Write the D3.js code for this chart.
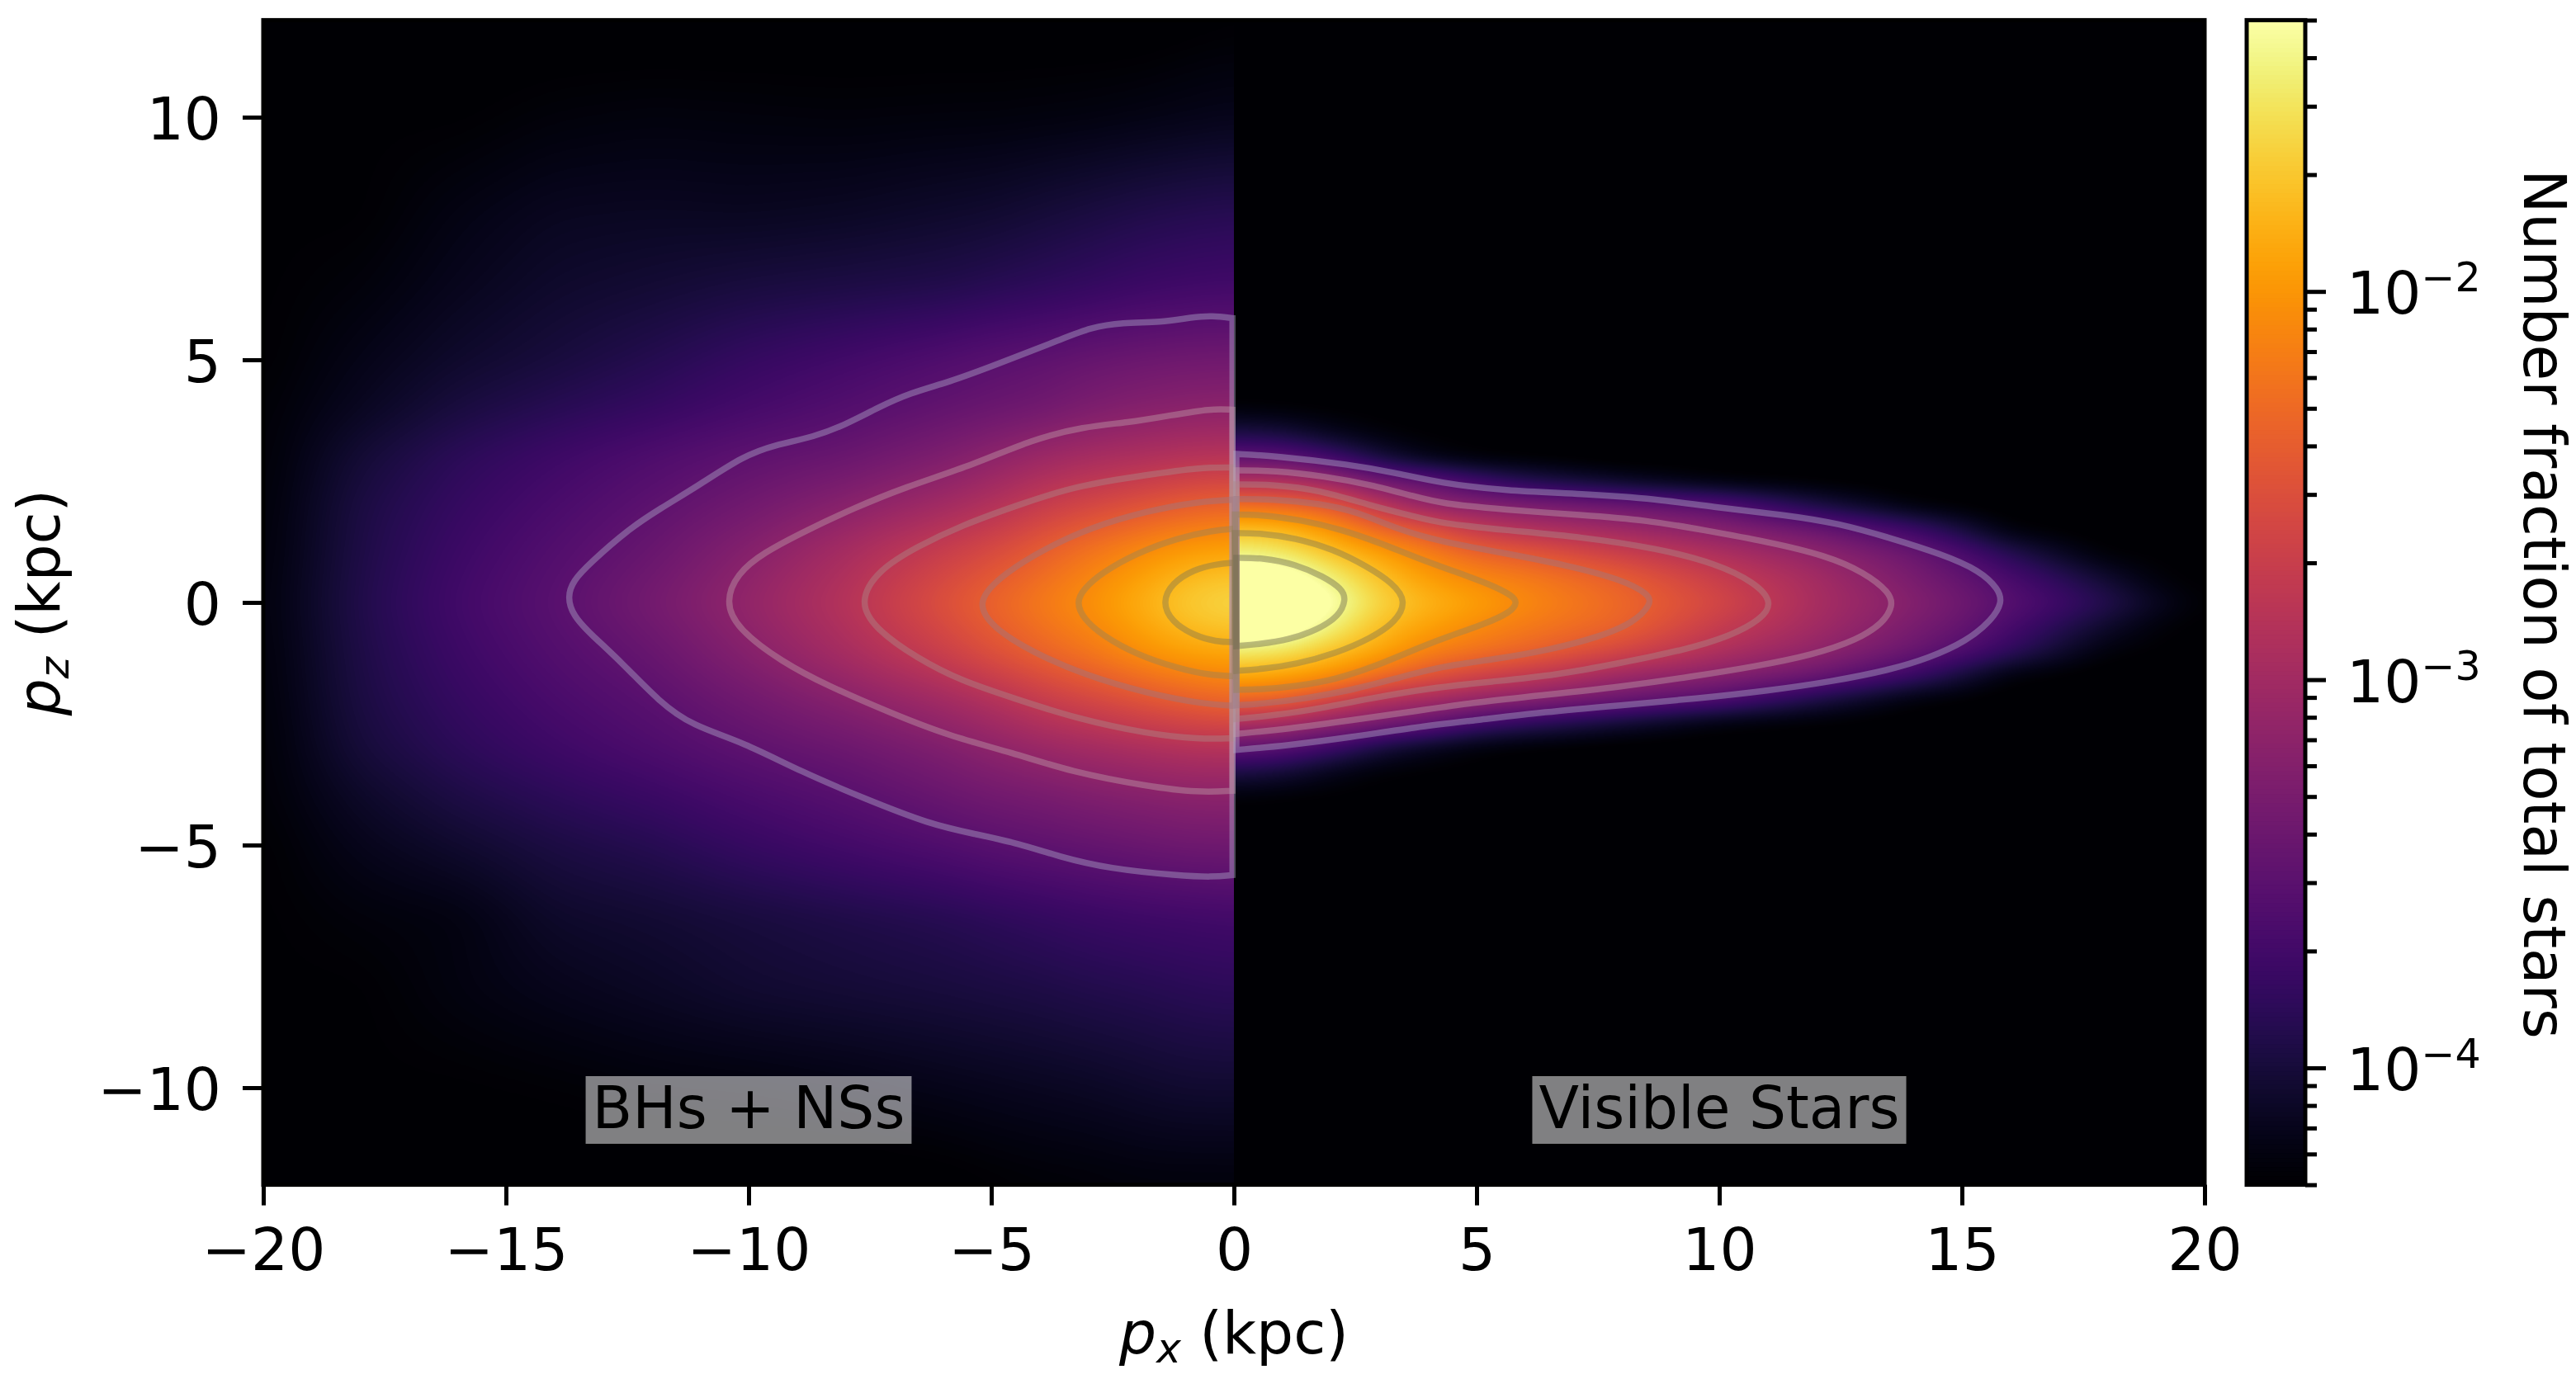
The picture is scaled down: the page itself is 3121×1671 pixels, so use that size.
<!DOCTYPE html>
<html>
<head>
<meta charset="utf-8">
<script src="https://cdn.jsdelivr.net/npm/d3@7"></script>
<style>
    html, body { margin: 0; padding: 0; background: white; }
    svg { display: block; }
    text { font-family: "DejaVu Sans"; fill: black; }
</style>
</head>
<body>
<div id="chart"></div>
<script>
// log10 of number fraction, BHs + NSs half
const leftCols = [-20, -18, -16, -14, -12, -10, -8, -6, -5, -4, -3, -2, -1, 0];
const leftRows = [12, 10, 8, 6.5, 5, 4, 3, 2, 1, 0, -1, -2, -3, -4, -5, -6.5, -8, -10, -12];
const leftLog = [
    [-4.35, -4.35, -4.35, -4.35, -4.35, -4.35, -4.35, -4.35, -4.35, -4.35, -4.35, -4.35, -4.32, -4.3],
    [-4.3, -4.3, -4.3, -4.25, -4.23, -4.24, -4.25, -4.24, -4.24, -4.23, -4.22, -4.2, -4.18, -4.16],
    [-4.3, -4.3, -4.2, -4.13, -4.12, -4.13, -4.11, -4.07, -4.05, -4.01, -3.97, -3.93, -3.9, -3.88],
    [-4.3, -4.25, -4.15, -4.07, -4.03, -3.98, -3.95, -3.92, -3.88, -3.84, -3.8, -3.75, -3.72, -3.7],
    [-4.3, -4.18, -4.07, -3.99, -3.9, -3.79, -3.7, -3.6, -3.54, -3.5, -3.44, -3.4, -3.37, -3.36],
    [-4.28, -4.13, -3.98, -3.88, -3.79, -3.68, -3.58, -3.47, -3.42, -3.37, -3.28, -3.22, -3.18, -3.16],
    [-4.28, -4.02, -3.85, -3.73, -3.61, -3.5, -3.42, -3.27, -3.16, -3.05, -2.97, -2.92, -2.86, -2.84],
    [-4.27, -3.96, -3.79, -3.65, -3.51, -3.36, -3.19, -3.0, -2.88, -2.72, -2.6, -2.5, -2.39, -2.34],
    [-4.26, -3.94, -3.74, -3.58, -3.42, -3.2, -2.95, -2.68, -2.55, -2.38, -2.2, -2.05, -1.92, -1.88],
    [-4.25, -3.92, -3.7, -3.53, -3.33, -3.1, -2.84, -2.5, -2.33, -2.17, -2.02, -1.84, -1.65, -1.55],
    [-4.26, -3.94, -3.74, -3.58, -3.43, -3.2, -2.95, -2.67, -2.5, -2.34, -2.2, -2.03, -1.9, -1.87],
    [-4.27, -3.96, -3.79, -3.65, -3.53, -3.36, -3.19, -3.0, -2.88, -2.72, -2.6, -2.49, -2.38, -2.3],
    [-4.28, -4.0, -3.85, -3.73, -3.62, -3.5, -3.4, -3.26, -3.16, -3.07, -3.0, -2.94, -2.88, -2.87],
    [-4.28, -4.09, -3.95, -3.85, -3.76, -3.65, -3.55, -3.42, -3.36, -3.32, -3.26, -3.22, -3.18, -3.17],
    [-4.3, -4.16, -4.06, -3.96, -3.89, -3.78, -3.69, -3.6, -3.54, -3.5, -3.46, -3.42, -3.38, -3.37],
    [-4.3, -4.25, -4.22, -4.08, -4.04, -3.99, -3.94, -3.89, -3.85, -3.81, -3.77, -3.74, -3.72, -3.7],
    [-4.3, -4.3, -4.22, -4.16, -4.11, -4.05, -4.02, -3.99, -3.97, -3.95, -3.92, -3.9, -3.87, -3.85],
    [-4.3, -4.3, -4.3, -4.28, -4.25, -4.24, -4.21, -4.17, -4.15, -4.13, -4.11, -4.08, -4.05, -4.05],
    [-4.35, -4.35, -4.35, -4.35, -4.35, -4.35, -4.35, -4.33, -4.3, -4.28, -4.27, -4.25, -4.25, -4.25]
];

// same, Visible Stars half
const rightCols = [0, 1, 2, 3, 4, 5, 6, 8, 10, 12, 14, 15, 16, 17, 18, 19, 20];
const rightRows = [4.5, 4, 3.5, 3, 2.5, 2, 1.5, 1, 0.5, 0, -0.5, -1, -1.5, -2, -2.5, -3, -3.5, -4, -4.5];
const rightLog = [
    [-4.35, -4.35, -4.35, -4.35, -4.35, -4.35, -4.35, -4.35, -4.35, -4.35, -4.35, -4.35, -4.35, -4.35, -4.35, -4.35, -4.35],
    [-4.25, -4.27, -4.3, -4.32, -4.35, -4.35, -4.35, -4.35, -4.35, -4.35, -4.35, -4.35, -4.35, -4.35, -4.35, -4.35, -4.35],
    [-3.95, -4.0, -4.15, -4.25, -4.3, -4.32, -4.35, -4.35, -4.35, -4.35, -4.35, -4.35, -4.35, -4.35, -4.35, -4.35, -4.35],
    [-3.5, -3.52, -3.72, -4.0, -4.2, -4.28, -4.3, -4.35, -4.35, -4.35, -4.35, -4.35, -4.35, -4.35, -4.35, -4.35, -4.35],
    [-2.88, -2.88, -3.05, -3.36, -3.5, -3.72, -3.9, -4.1, -4.25, -4.3, -4.35, -4.35, -4.35, -4.35, -4.35, -4.35, -4.35],
    [-2.25, -2.3, -2.42, -2.8, -3.1, -3.2, -3.27, -3.4, -3.55, -3.95, -4.25, -4.3, -4.35, -4.35, -4.35, -4.35, -4.35],
    [-1.73, -1.78, -2.0, -2.3, -2.48, -2.73, -2.86, -3.02, -3.2, -3.4, -3.72, -3.98, -4.25, -4.3, -4.35, -4.35, -4.35],
    [-1.38, -1.46, -1.7, -1.92, -2.13, -2.33, -2.42, -2.67, -2.9, -3.13, -3.4, -3.62, -3.88, -4.1, -4.28, -4.3, -4.35],
    [-1.08, -1.12, -1.42, -1.72, -1.95, -2.08, -2.17, -2.39, -2.7, -2.98, -3.3, -3.46, -3.65, -3.85, -4.05, -4.25, -4.32],
    [-1.0, -1.0, -1.25, -1.62, -1.81, -1.94, -2.08, -2.31, -2.6, -2.95, -3.22, -3.38, -3.55, -3.72, -3.9, -4.12, -4.3],
    [-1.08, -1.12, -1.42, -1.75, -1.93, -2.07, -2.18, -2.36, -2.72, -3.0, -3.3, -3.45, -3.66, -3.88, -4.08, -4.25, -4.32],
    [-1.45, -1.5, -1.72, -1.9, -2.13, -2.24, -2.34, -2.6, -2.9, -3.13, -3.42, -3.6, -3.82, -4.05, -4.25, -4.3, -4.35],
    [-1.85, -1.92, -2.03, -2.27, -2.47, -2.62, -2.74, -3.03, -3.2, -3.4, -3.75, -4.0, -4.25, -4.3, -4.35, -4.35, -4.35],
    [-2.33, -2.36, -2.6, -2.85, -2.97, -3.1, -3.2, -3.42, -3.6, -3.95, -4.25, -4.3, -4.35, -4.35, -4.35, -4.35, -4.35],
    [-2.92, -2.98, -3.16, -3.33, -3.48, -3.72, -3.85, -4.05, -4.25, -4.3, -4.35, -4.35, -4.35, -4.35, -4.35, -4.35, -4.35],
    [-3.48, -3.56, -3.75, -4.0, -4.15, -4.25, -4.3, -4.35, -4.35, -4.35, -4.35, -4.35, -4.35, -4.35, -4.35, -4.35, -4.35],
    [-3.95, -4.02, -4.17, -4.27, -4.3, -4.33, -4.35, -4.35, -4.35, -4.35, -4.35, -4.35, -4.35, -4.35, -4.35, -4.35, -4.35],
    [-4.25, -4.28, -4.3, -4.33, -4.35, -4.35, -4.35, -4.35, -4.35, -4.35, -4.35, -4.35, -4.35, -4.35, -4.35, -4.35, -4.35],
    [-4.35, -4.35, -4.35, -4.35, -4.35, -4.35, -4.35, -4.35, -4.35, -4.35, -4.35, -4.35, -4.35, -4.35, -4.35, -4.35, -4.35]
];

// contour lines as [px, pz] in kpc, outermost first
const bhContours = [
    [[-0.03,5.86],[-0.45,5.91],[-0.85,5.88],[-1.51,5.77],[-2.3,5.77],[-2.97,5.66],[-3.49,5.45],[-4.95,4.88],[-5.87,4.54],[-6.67,4.32],[-7.33,4.02],[-7.99,3.67],[-8.65,3.41],[-9.45,3.25],[-10.11,3.02],[-11.03,2.41],[-11.83,1.93],[-12.49,1.5],[-13.28,0.8],[-13.61,0.46],[-13.74,0.11],[-13.61,-0.28],[-13.28,-0.63],[-12.62,-1.23],[-11.83,-2.06],[-11.16,-2.54],[-10.11,-2.88],[-8.92,-3.49],[-7.59,-4.05],[-6.27,-4.57],[-5.35,-4.77],[-4.42,-4.97],[-3.63,-5.23],[-2.57,-5.49],[-1.12,-5.63],[-0.45,-5.66],[-0.03,-5.62]],
    [[-0.03,3.97],[-0.45,4.0],[-1.38,3.84],[-2.17,3.71],[-3.1,3.62],[-4.16,3.36],[-5.35,2.84],[-6.8,2.37],[-7.86,1.93],[-8.78,1.5],[-9.71,1.02],[-10.24,0.59],[-10.48,0.02],[-10.24,-0.54],[-9.31,-1.23],[-8.39,-1.71],[-7.07,-2.28],[-5.88,-2.75],[-4.55,-3.1],[-3.36,-3.49],[-1.78,-3.79],[-0.72,-3.92],[-0.03,-3.88]],
    [[-0.03,2.78],[-0.72,2.78],[-1.77,2.63],[-3.23,2.41],[-4.42,2.02],[-5.61,1.59],[-6.53,1.15],[-7.33,0.67],[-7.73,0.02],[-7.4,-0.54],[-6.53,-1.15],[-5.61,-1.62],[-4.55,-1.97],[-3.23,-2.4],[-1.77,-2.71],[-0.72,-2.82],[-0.03,-2.8]],
    [[0.02,2.12],[-0.72,2.08],[-1.78,1.89],[-2.97,1.54],[-3.89,1.11],[-4.69,0.63],[-5.35,0.02],[-4.95,-0.54],[-4.16,-1.02],[-3.1,-1.49],[-1.78,-1.88],[-0.59,-2.1],[0.02,-2.13]],
    [[0.02,1.52],[-0.44,1.48],[-1.15,1.33],[-2.0,1.02],[-2.71,0.62],[-3.1,0.28],[-3.25,0],[-3.1,-0.34],[-2.71,-0.68],[-2.0,-1.08],[-1.15,-1.36],[-0.5,-1.5],[0.02,-1.52]],
    [[0.02,0.82],[-0.37,0.79],[-0.83,0.68],[-1.28,0.4],[-1.48,0],[-1.28,-0.4],[-0.83,-0.68],[-0.37,-0.81],[0.02,-0.82]]
];
const starContours = [
    [[0.05,3.06],[0.82,3.02],[2.41,2.84],[3.33,2.67],[4.26,2.46],[5.58,2.3],[7.17,2.24],[8.75,2.13],[9.81,1.97],[11.4,1.8],[12.46,1.63],[13.52,1.33],[14.57,1.0],[15.37,0.66],[15.76,0.27],[15.83,0],[15.63,-0.35],[15.1,-0.8],[14.31,-1.15],[13.52,-1.39],[12.32,-1.63],[11.0,-1.82],[9.55,-1.98],[7.96,-2.12],[6.37,-2.26],[5.05,-2.42],[3.73,-2.57],[2.41,-2.78],[1.08,-2.95],[0.05,-3.04]],
    [[0.05,2.72],[0.82,2.72],[1.88,2.6],[2.8,2.43],[3.73,2.18],[4.26,2.04],[5.58,1.91],[7.17,1.8],[8.49,1.7],[9.68,1.49],[11.0,1.25],[12.19,0.97],[12.99,0.62],[13.52,0.2],[13.58,-0.07],[13.38,-0.42],[12.85,-0.77],[11.93,-1.08],[10.74,-1.32],[9.42,-1.53],[7.96,-1.74],[6.37,-1.91],[5.05,-2.05],[3.73,-2.24],[2.41,-2.43],[1.08,-2.61],[0.05,-2.71]],
    [[0.05,2.43],[0.82,2.43],[1.75,2.32],[2.8,2.0],[3.73,1.77],[4.26,1.63],[5.58,1.49],[7.17,1.35],[8.75,1.11],[9.94,0.8],[10.74,0.41],[11.11,0],[10.87,-0.35],[10.21,-0.7],[9.28,-0.98],[7.96,-1.25],[6.64,-1.5],[5.32,-1.63],[3.99,-1.77],[2.8,-1.98],[1.75,-2.19],[0.82,-2.33],[0.05,-2.4]],
    [[0.05,2.13],[0.82,2.13],[1.75,2.04],[2.54,1.87],[3.33,1.52],[4.26,1.25],[5.45,1.04],[6.9,0.76],[7.96,0.48],[8.56,0.17],[8.6,-0.04],[8.23,-0.42],[7.56,-0.7],[6.51,-0.98],[5.32,-1.18],[4.26,-1.32],[3.33,-1.57],[2.41,-1.81],[1.48,-1.98],[0.56,-2.09],[0.05,-2.12]],
    [[0.02,1.81],[0.54,1.81],[1.39,1.7],[2.23,1.5],[2.95,1.25],[3.79,0.91],[4.51,0.65],[5.29,0.37],[5.74,0.14],[5.84,0],[5.71,-0.2],[5.16,-0.45],[4.38,-0.71],[3.6,-1.02],[2.95,-1.3],[2.1,-1.59],[1.26,-1.73],[0.61,-1.79],[0.05,-1.8]],
    [[0.02,1.43],[0.54,1.43],[1.26,1.33],[2.04,1.1],[2.75,0.74],[3.27,0.4],[3.56,0.03],[3.34,-0.4],[2.82,-0.74],[2.1,-1.05],[1.26,-1.28],[0.61,-1.37],[0.05,-1.41]],
    [[0.05,0.92],[0.61,0.92],[1.26,0.79],[1.84,0.54],[2.23,0.28],[2.31,0.06],[2.17,-0.28],[1.71,-0.57],[1.13,-0.77],[0.54,-0.86],[0.05,-0.9]]
];

const xTicks = [-20, -15, -10, -5, 0, 5, 10, 15, 20];
const yTicks = [-10, -5, 0, 5, 10];
const cbarMajor = [1e-4, 1e-3, 1e-2];
const cbarMinor = [5e-5, 6e-5, 7e-5, 8e-5, 9e-5, 2e-4, 3e-4, 4e-4, 5e-4, 6e-4, 7e-4, 8e-4, 9e-4,
    2e-3, 3e-3, 4e-3, 5e-3, 6e-3, 7e-3, 8e-3, 9e-3, 2e-2, 3e-2, 4e-2, 5e-2];
const panelLabels = ["BHs + NSs", "Visible Stars"];
const panelLabelX = [-10, 10];

const config = {
    width: 3121, height: 1671,
    left: 319, right: 2671, top: 24.4, bottom: 1435.6,
    cbarLeft: 2722, cbarRight: 2793,
    fontSize: 71, tickWidth: 5
};

const svg = d3.select('#chart').append('svg')
    .attr('width', config.width)
    .attr('height', config.height);

const xScale = d3.scaleLinear().domain([-20, 20]).range([config.left, config.right]);
const yScale = d3.scaleLinear().domain([-12, 12]).range([config.bottom, config.top]);
const normScale = d3.scaleLog().domain([5e-5, 5e-2]).range([0, 1]).clamp(true);
const colorOf = v => d3.interpolateInferno(normScale(v));

// running-sum box blur on the value field, edges clamped
function boxBlur(field, w, h, rx, ry) {
    const tmp = new Float32Array(field.length);
    for (let j = 0; j < h; j++) {
        let sum = 0;
        for (let i = -rx; i <= rx; i++) sum += field[j * w + Math.max(0, Math.min(w - 1, i))];
        for (let i = 0; i < w; i++) {
            tmp[j * w + i] = sum / (2 * rx + 1);
            sum += field[j * w + Math.min(w - 1, i + rx + 1)] - field[j * w + Math.max(0, i - rx)];
        }
    }
    for (let i = 0; i < w; i++) {
        let sum = 0;
        for (let j = -ry; j <= ry; j++) sum += tmp[Math.max(0, Math.min(h - 1, j)) * w + i];
        for (let j = 0; j < h; j++) {
            field[j * w + i] = sum / (2 * ry + 1);
            sum += tmp[Math.min(h - 1, j + ry + 1) * w + i] - tmp[Math.max(0, j - ry) * w + i];
        }
    }
}

// paint one half of the plot from its grid
function paintHalf(ctx, cols, rows, values, pxStart, pxEnd, rx, ry) {
    const w = pxEnd - pxStart, h = Math.round(config.bottom - config.top);
    const colIdx = d3.scaleLinear().domain(cols).range(d3.range(cols.length)).clamp(true);
    const rowIdx = d3.scaleLinear().domain(rows).range(d3.range(rows.length)).clamp(true);
    const field = new Float32Array(w * h);
    for (let j = 0; j < h; j++) {
        const r = rowIdx(yScale.invert(config.top + j + 0.5));
        const r0 = Math.min(rows.length - 2, Math.floor(r)), fr = r - r0;
        for (let i = 0; i < w; i++) {
            const c = colIdx(xScale.invert(config.left + pxStart + i + 0.5));
            const c0 = Math.min(cols.length - 2, Math.floor(c)), fc = c - c0;
            field[j * w + i] = (1 - fr) * ((1 - fc) * values[r0][c0] + fc * values[r0][c0 + 1])
                + fr * ((1 - fc) * values[r0 + 1][c0] + fc * values[r0 + 1][c0 + 1]);
        }
    }
    for (let k = 0; k < 3; k++) boxBlur(field, w, h, rx, ry);

    const lut = d3.range(1024).map(k => d3.rgb(d3.interpolateInferno(k / 1023)));
    const img = ctx.createImageData(w, h);
    for (let n = 0; n < field.length; n++) {
        const c = lut[Math.round(normScale(Math.pow(10, field[n])) * 1023)];
        img.data[n * 4] = c.r; img.data[n * 4 + 1] = c.g; img.data[n * 4 + 2] = c.b; img.data[n * 4 + 3] = 255;
    }
    ctx.putImageData(img, pxStart, 0);
}

const canvas = document.createElement('canvas');
canvas.width = config.right - config.left;
canvas.height = Math.round(config.bottom - config.top);
const ctx = canvas.getContext('2d');
const seam = Math.round(xScale(0) - config.left);
paintHalf(ctx, leftCols, leftRows, leftLog, 0, seam, 22, 16);
paintHalf(ctx, rightCols, rightRows, rightLog, seam, canvas.width, 20, 9);

svg.append('defs').append('clipPath').attr('id', 'plot-clip').append('rect')
    .attr('x', config.left).attr('y', config.top)
    .attr('width', config.right - config.left)
    .attr('height', config.bottom - config.top);

svg.append('image')
    .attr('x', config.left).attr('y', config.top)
    .attr('width', canvas.width).attr('height', config.bottom - config.top)
    .attr('preserveAspectRatio', 'none')
    .attr('href', canvas.toDataURL('image/png'));

// contours: light for the outer levels, darker towards the centre
const lineGen = d3.line().x(d => xScale(d[0])).y(d => yScale(d[1])).curve(d3.curveBasis);
const levelColor = ['#aaa4c6', '#bc98a7', '#aa8787', '#9b7882', '#968259', '#867850', '#6e6b50'];
const contourG = svg.append('g').attr('clip-path', 'url(#plot-clip)');
[bhContours, starContours].forEach(set => {
    contourG.selectAll(null).data(set).join('path')
        .attr('d', d => lineGen(d) + 'Z')
        .attr('fill', 'none')
        .attr('stroke', (d, i) => levelColor[i])
        .attr('stroke-opacity', 0.45)
        .attr('stroke-width', 7.5);
});

// panel labels
panelLabels.forEach((label, i) => {
    const g = svg.append('g');
    const t = g.append('text')
        .attr('x', xScale(panelLabelX[i]))
        .attr('y', 1367)
        .attr('text-anchor', 'middle')
        .style('font-size', config.fontSize + 'px')
        .text(label);
    const b = t.node().getBBox();
    g.insert('rect', 'text')
        .attr('x', b.x - 8).attr('y', 1304)
        .attr('width', b.width + 16).attr('height', 82)
        .attr('fill', 'white').attr('fill-opacity', 0.5);
});

// axes
const xAxis = d3.axisBottom(xScale).tickValues(xTicks).tickSize(25).tickSizeOuter(0).tickPadding(28);
const yAxis = d3.axisLeft(yScale).tickValues(yTicks).tickSize(25).tickSizeOuter(0).tickPadding(26);
const xAxisG = svg.append('g').attr('transform', `translate(0,${config.bottom})`).call(xAxis);
const yAxisG = svg.append('g').attr('transform', `translate(${config.left},0)`).call(yAxis);
[xAxisG, yAxisG].forEach(g => {
    g.select('.domain').remove();
    g.selectAll('.tick line').attr('stroke', 'black').attr('stroke-width', config.tickWidth);
    g.selectAll('.tick text').style('font-size', config.fontSize + 'px').attr('fill', 'black');
});
yAxisG.selectAll('.tick text').attr('dy', '0.38em');

svg.append('rect')
    .attr('x', config.left).attr('y', config.top)
    .attr('width', config.right - config.left).attr('height', config.bottom - config.top)
    .attr('fill', 'none').attr('stroke', 'black').attr('stroke-width', config.tickWidth);

// axis titles
const xTitle = svg.append('text')
    .attr('x', xScale(0)).attr('y', 1640)
    .attr('text-anchor', 'middle')
    .style('font-size', config.fontSize + 'px');
xTitle.append('tspan').style('font-style', 'italic').text('p');
xTitle.append('tspan').style('font-style', 'italic').style('font-size', '50px').attr('dy', 11).text('x');
xTitle.append('tspan').attr('dy', -11).text(' (kpc)');

const yTitle = svg.append('text')
    .attr('transform', `translate(72,${yScale(0)}) rotate(-90)`)
    .attr('text-anchor', 'middle')
    .style('font-size', config.fontSize + 'px');
yTitle.append('tspan').style('font-style', 'italic').text('p');
yTitle.append('tspan').style('font-style', 'italic').style('font-size', '50px').attr('dy', 11).text('z');
yTitle.append('tspan').attr('dy', -11).text(' (kpc)');

// colorbar
const cbarScale = d3.scaleLog().domain([5e-5, 5e-2]).range([config.bottom, config.top]);
const cbarSteps = d3.range(0, 256).map(k => 5e-5 * Math.pow(1000, k / 256));
svg.append('g').selectAll('rect').data(cbarSteps).join('rect')
    .attr('x', config.cbarLeft)
    .attr('width', config.cbarRight - config.cbarLeft)
    .attr('y', d => cbarScale(d * Math.pow(1000, 1 / 256)) - 0.5)
    .attr('height', (config.bottom - config.top) / 256 + 1)
    .attr('fill', d => colorOf(d * Math.pow(1000, 0.5 / 256)));
svg.append('rect')
    .attr('x', config.cbarLeft).attr('y', config.top)
    .attr('width', config.cbarRight - config.cbarLeft).attr('height', config.bottom - config.top)
    .attr('fill', 'none').attr('stroke', 'black').attr('stroke-width', config.tickWidth);

const cbarMinorAxis = d3.axisRight(cbarScale).tickValues(cbarMinor).tickSize(14).tickSizeOuter(0).tickFormat('');
const cbarMajorAxis = d3.axisRight(cbarScale).tickValues(cbarMajor).tickSize(25).tickSizeOuter(0).tickFormat('');
[cbarMinorAxis, cbarMajorAxis].forEach(a => {
    const g = svg.append('g').attr('transform', `translate(${config.cbarRight},0)`).call(a);
    g.select('.domain').remove();
    g.selectAll('.tick line').attr('stroke', 'black').attr('stroke-width', config.tickWidth);
});

const expLabels = svg.append('g').selectAll('text').data(cbarMajor).join('text')
    .attr('x', 2843)
    .attr('y', d => cbarScale(d) + 27)
    .style('font-size', config.fontSize + 'px');
expLabels.append('tspan').text('10');
expLabels.append('tspan')
    .style('font-size', '49px')
    .attr('dy', -27)
    .text(d => '\u2212' + Math.round(-Math.log10(d)));

svg.append('text')
    .attr('x', 3058)
    .attr('y', 732)
    .attr('transform', 'rotate(90 3058 732)')
    .attr('text-anchor', 'middle')
    .style('font-size', config.fontSize + 'px')
    .text('Number fraction of total stars');
</script>
</body>
</html>
